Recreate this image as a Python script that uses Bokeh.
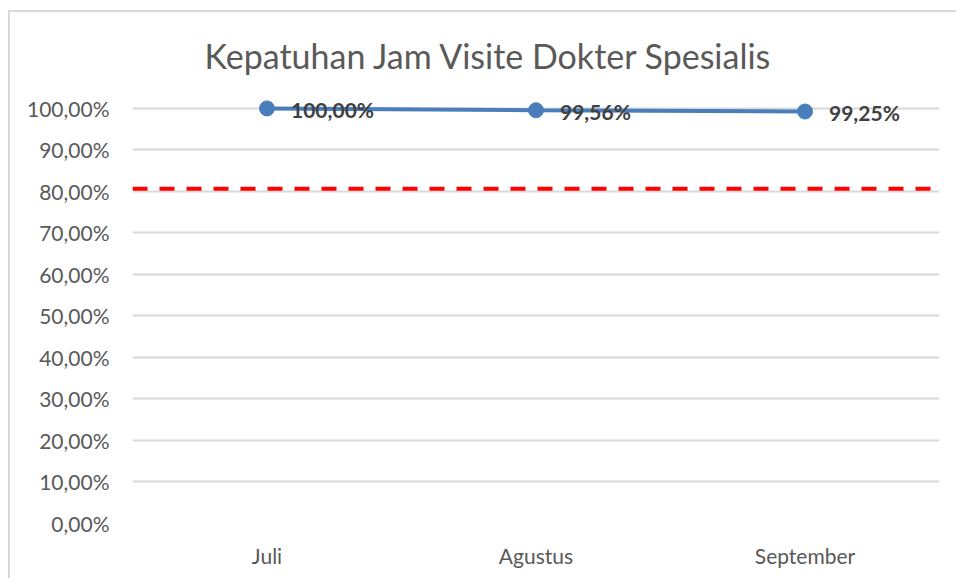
from bokeh.plotting import figure
from bokeh.models import (FactorRange, Range1d, FixedTicker, Span, ColumnDataSource,
                          CustomJSTickFormatter, LabelSet)
from bokeh.core.properties import value
from bokeh.embed import file_html
from bokeh.resources import INLINE

months = ["Juli", "Agustus", "September"]
compliance = [100.00, 99.56, 99.25]
value_labels = ["100,00%", "99,56%", "99,25%"]
target = 80.65
y_ticks = [0, 10, 20, 30, 40, 50, 60, 70, 80, 90, 100]
title_text = "Kepatuhan Jam Visite Dokter Spesialis"

FONT = "Lato"
TXT = "#595959"

p = figure(width=956, height=578, x_range=FactorRange(*months), y_range=Range1d(0, 104.8),
           output_backend="svg", toolbar_location=None, title=title_text,
           min_border_left=132, min_border_right=17, min_border_top=88, min_border_bottom=55)
p.outline_line_color = None
p.background_fill_color = "white"
p.border_fill_alpha = 0
p.styles = {
    "background": ("linear-gradient(#d9d9d9, #d9d9d9) 8px 10px / 2px 100% no-repeat, "
                   "linear-gradient(#d9d9d9, #d9d9d9) 8px 10px / 100% 2px no-repeat, white"),
}

p.title.align = "left"
p.title.text_font = FONT
p.title.text_font_size = "34px"
p.title.text_font_style = "normal"
p.title.text_color = TXT
p.title.offset = 72
p.title.standoff = 25

# axes
p.yaxis.ticker = FixedTicker(ticks=y_ticks)
p.yaxis.formatter = CustomJSTickFormatter(code="return tick.toFixed(2).replace('.', ',') + '%';")
p.yaxis.axis_line_color = None
p.yaxis.major_tick_line_color = None
p.yaxis.minor_tick_line_color = None
p.yaxis.major_label_text_font = FONT
p.yaxis.major_label_text_font_size = "21px"
p.yaxis.major_label_text_color = TXT
p.yaxis.major_label_standoff = 17

p.xaxis.axis_line_color = None
p.xaxis.major_tick_line_color = None
p.xaxis.major_label_text_font = FONT
p.xaxis.major_label_text_font_size = "21px"
p.xaxis.major_label_text_color = TXT
p.xaxis.major_label_standoff = 13

p.xgrid.grid_line_color = None
p.ygrid.grid_line_color = "#d9d9d9"
p.ygrid.grid_line_width = 2

# target line
p.add_layout(Span(location=target, dimension="width", line_color="#ff0000",
                  line_width=4, line_dash="15 12"))

src = ColumnDataSource(dict(x=months, y=compliance, lab=value_labels))
p.line("x", "y", source=src, line_color="#4a7ebb", line_width=4)
p.scatter("x", "y", source=src, size=15, fill_color="#4a7ebb", line_color="#4a7ebb")

p.add_layout(LabelSet(x="x", y="y", text="lab", source=src, x_offset=24, y_offset=-1,
                      text_font=value(FONT), text_font_size=value("21px"),
                      text_font_style=value("bold"),
                      text_color="#404040", text_baseline="middle", text_align="left"))

open("out.html", "w").write(file_html(p, INLINE))
